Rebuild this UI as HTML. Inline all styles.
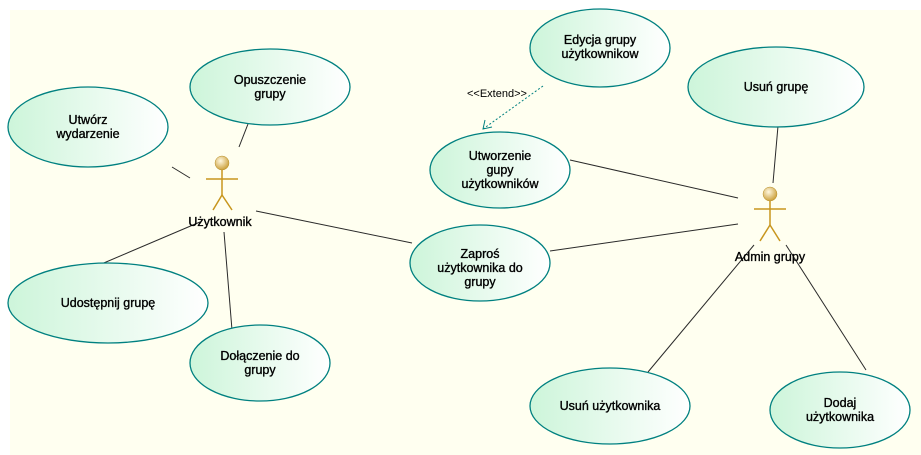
<!DOCTYPE html>
<html><head><meta charset="utf-8"><style>
body{margin:0;background:#fff;}
svg{display:block;font-family:"Liberation Sans",sans-serif;font-size:12.5px;}
</style></head><body>
<svg width="921" height="455" viewBox="0 0 921 455" xmlns="http://www.w3.org/2000/svg">
<defs>
<linearGradient id="g" x1="0" y1="0" x2="1" y2="0"><stop offset="0" stop-color="#cdf5da"/><stop offset="1" stop-color="#ffffff"/></linearGradient>
<radialGradient id="h" cx="0.4" cy="0.35" r="0.7"><stop offset="0" stop-color="#fff8e0"/><stop offset="1" stop-color="#c89a30"/></radialGradient>
</defs>
<rect x="10" y="10" width="911" height="445" fill="#fffff0"/>
<g stroke="#2a2a2a" stroke-width="1" fill="none">
<line x1="172" y1="167" x2="190" y2="178"/>
<line x1="248" y1="124" x2="239" y2="147"/>
<line x1="92" y1="268" x2="200" y2="222"/>
<line x1="224" y1="232" x2="232" y2="330"/>
<line x1="256" y1="211" x2="412" y2="243"/>
<line x1="570" y1="160" x2="738" y2="198"/>
<line x1="550" y1="251" x2="738" y2="224"/>
<line x1="778" y1="126" x2="773" y2="183"/>
<line x1="648" y1="372" x2="754" y2="245"/>
<line x1="786" y1="245" x2="866" y2="370"/>
</g>
<g stroke="#008080" stroke-width="1" fill="none">
<line x1="543" y1="86" x2="483" y2="129" stroke-dasharray="2,2"/>
<polyline points="485,120 483,129 492,127"/>
</g>
<text x="467" y="97" fill="#000" font-size="11">&lt;&lt;Extend&gt;&gt;</text>
<g stroke="#008080" stroke-width="1.3" fill="url(#g)">
<ellipse cx="88" cy="127" rx="80" ry="40"/>
<ellipse cx="270" cy="87" rx="80" ry="38"/>
<ellipse cx="600" cy="48" rx="70" ry="39"/>
<ellipse cx="776" cy="87" rx="88" ry="40"/>
<ellipse cx="500" cy="170" rx="70" ry="38"/>
<ellipse cx="480" cy="263" rx="70" ry="38"/>
<ellipse cx="108" cy="303" rx="100" ry="40"/>
<ellipse cx="260" cy="363" rx="70" ry="38"/>
<ellipse cx="610" cy="406" rx="80" ry="38"/>
<ellipse cx="840" cy="410" rx="70" ry="38"/>
</g>
<g fill="#000" stroke="#000" stroke-width="0.35" text-anchor="middle">
<text x="88" y="124">Utwórz</text><text x="88" y="138">wydarzenie</text>
<text x="270" y="84">Opuszczenie</text><text x="270" y="98">grupy</text>
<text x="600" y="44">Edycja grupy</text><text x="600" y="58">użytkownikow</text>
<text x="776" y="91">Usuń grupę</text>
<text x="500" y="160">Utworzenie</text><text x="500" y="174">gupy</text><text x="500" y="188">użytkowników</text>
<text x="480" y="258">Zaproś</text><text x="480" y="272">użytkownika do</text><text x="480" y="286">grupy</text>
<text x="108" y="307">Udostępnij grupę</text>
<text x="260" y="360">Dołączenie do</text><text x="260" y="374">grupy</text>
<text x="610" y="410">Usuń użytkownika</text>
<text x="840" y="407">Dodaj</text><text x="840" y="421">użytkownika</text>
<text x="220" y="226">Użytkownik</text>
<text x="770" y="261">Admin grupy</text>
</g>
<g stroke="#c8961e" stroke-width="1.5" fill="none">
<line x1="222" y1="170" x2="222" y2="195"/><line x1="206" y1="179" x2="238" y2="179"/>
<polyline points="213,210 222,195 232,210"/>
<line x1="770" y1="201" x2="770" y2="225"/><line x1="754" y1="209" x2="786" y2="209"/>
<polyline points="760,241 770,225 780,241"/>
</g>
<circle cx="222" cy="163" r="7" fill="url(#h)" stroke="#b8902a" stroke-width="0.5"/>
<circle cx="770" cy="194" r="7" fill="url(#h)" stroke="#b8902a" stroke-width="0.5"/>
</svg>
</body></html>
